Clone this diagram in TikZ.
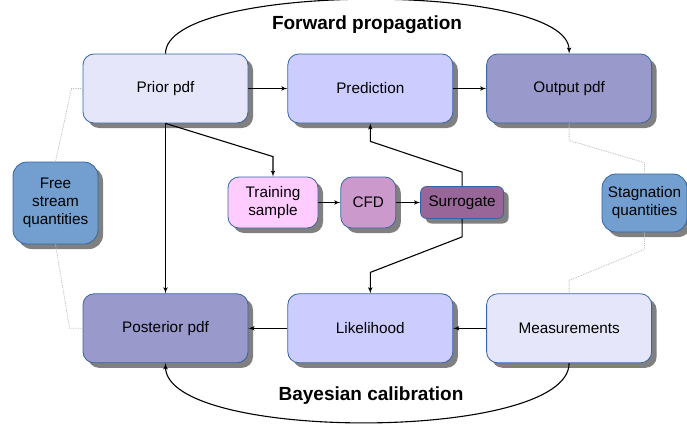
\documentclass[tikz,border=0pt]{standalone}
\usepackage{fontspec}
\setmainfont{Liberation Sans}
\usetikzlibrary{shapes, arrows, positioning, shadows}
\definecolor{boxborder}{HTML}{3465A4}
\definecolor{shadowgray}{HTML}{808080}
\definecolor{lightlav}{HTML}{E6E6FA}
\definecolor{midlav}{HTML}{CCCCFF}
\definecolor{darklav}{HTML}{9999CC}
\definecolor{sideblue}{HTML}{729FCF}
\definecolor{pinklight}{HTML}{FFCCFF}
\definecolor{pinkmid}{HTML}{CC99CC}
\definecolor{plum}{HTML}{996699}
\tikzstyle{block} = [rectangle, rounded corners=11pt, draw=boxborder, line width=0.8pt, align=center, inner sep=2pt, drop shadow={shadow xshift=5pt, shadow yshift=-5pt, fill=shadowgray, opacity=1}]
\tikzstyle{pdfbox} = [block, minimum width=165pt, minimum height=69pt]
\tikzstyle{sidebox} = [block, fill=sideblue, minimum width=85pt, rounded corners=14pt]
\tikzstyle{solver} = [block, minimum height=51pt]
\tikzstyle{line} = [draw, -latex', line width=1.1pt]
\tikzstyle{link} = [draw, densely dotted, gray!55, line width=0.8pt]
\tikzstyle{title} = [font=\fontsize{19}{22}\selectfont\bfseries]

\begin{document}
\begin{tikzpicture}[x=1pt, y=-1pt, font=\fontsize{15.3}{18}\selectfont]
  \useasboundingbox (0,0) rectangle (687,423);
  %% nodes
  % forward row
  \node [pdfbox, fill=lightlav] (prior) at (165.5,88.5) {Prior pdf};
  \node [pdfbox, fill=midlav, right=39pt of prior] (prediction) {Prediction};
  \node [pdfbox, fill=darklav, right=33pt of prediction] (output) {Output pdf};
  % calibration row
  \node [pdfbox, fill=darklav, below=170pt of prior] (posterior) {Posterior pdf};
  \node [pdfbox, fill=midlav, right=39pt of posterior] (likelihood) {Likelihood};
  \node [pdfbox, fill=lightlav, right=33pt of likelihood] (measurements) {Measurements};
  % surrogate chain
  \node [solver, fill=pinklight, minimum width=90pt] (training) at (273,202.5) {Training\\sample};
  \node [solver, fill=pinkmid, minimum width=55pt, right=22pt of training] (cfd) {CFD};
  \node [block, fill=plum, minimum width=83pt, minimum height=32pt, rounded corners=6pt, right=24pt of cfd] (surrogate) {Surrogate};
  % side quantities
  \node [sidebox, minimum height=82pt] (freestream) at (55.5,203) {Free\\stream\\quantities};
  \node [sidebox, minimum height=58pt] (stagnation) at (644.5,203) {Stagnation\\quantities};
  % titles
  \node [title] (forward) at (367,25) {Forward propagation};
  \node [title] (bayes) at (371,396) {Bayesian calibration};
  %% edges
  % forward row
  \path [line] (prior) -- (prediction);
  \path [line] (prediction) -- (output);
  \path [line] (prior.north) .. controls ([yshift=72pt]prior.north) and ([yshift=72pt]output.north) .. (output.north);
  % calibration row
  \path [line] (measurements) -- (likelihood);
  \path [line] (likelihood) -- (posterior);
  \path [line] (measurements.south) .. controls ([yshift=-79pt]measurements.south) and ([yshift=-79pt]posterior.south) .. (posterior.south);
  % prior down
  \path [line] (prior) -- (posterior);
  \path [line] (prior.south) -- ([yshift=20pt]training.north) -- (training.north);
  % surrogate chain
  \path [line] (training) -- (cfd);
  \path [line] (cfd) -- (surrogate);
  \path [line] (surrogate.north) -- ([yshift=14pt]surrogate.north) -- ([yshift=-18pt]prediction.south) -- (prediction.south);
  \path [line] (surrogate.south) -- ([yshift=-18pt]surrogate.south) -- ([yshift=21pt]likelihood.north) -- (likelihood.north);
  % dotted links to quantities
  \path [link] (prior.west) -- ([xshift=-11pt]prior.west) -- (freestream.north);
  \path [link] (freestream.south) -- ([xshift=-13pt]posterior.west) -- (posterior.west);
  \path [link] (output.south) -- ([yshift=-17pt]output.south) -- ([yshift=11pt]stagnation.north) -- (stagnation.north);
  \path [link] (stagnation.south) -- ([yshift=-17pt]stagnation.south) -- ([yshift=13pt]measurements.north) -- (measurements.north);
\end{tikzpicture}
\end{document}
